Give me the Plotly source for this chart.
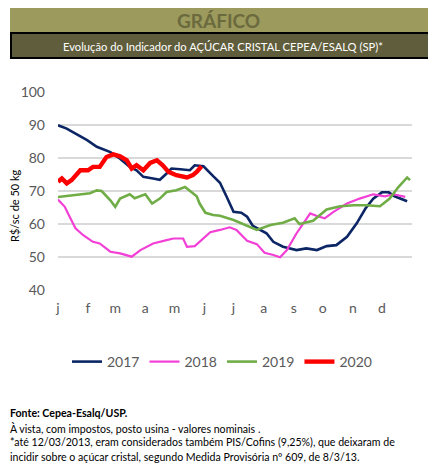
import plotly.graph_objects as go

# ---- data (day of year, R$/sc 50kg) ----
d2017 = [0, 9, 19, 30, 40, 54, 64, 74, 81, 88, 98, 105, 112, 117, 126, 136, 141, 150, 160, 167, 174, 181, 189, 195, 201, 215, 222, 232, 246, 256, 267, 277, 287, 298, 308, 317, 325, 334, 341, 347, 360]
v2017 = [89.9, 88.9, 87.2, 85.4, 83.4, 81.8, 79.8, 77.3, 76.3, 74.3, 73.8, 73.4, 75.3, 76.8, 76.6, 76.3, 77.8, 77.5, 74.5, 72.5, 68.2, 63.7, 63.4, 62.2, 59.4, 57.2, 54.6, 53.1, 52.1, 52.6, 52.1, 53.3, 53.6, 56.1, 60.2, 64.7, 67.7, 69.6, 69.6, 68.4, 66.9]

d2018 = [0, 7, 12, 18, 26, 36, 43, 54, 64, 76, 85, 98, 112, 119, 129, 133, 141, 150, 157, 167, 177, 184, 195, 205, 213, 222, 229, 236, 246, 253, 260, 267, 275, 284, 298, 311, 325, 337, 346, 358]
v2018 = [67.4, 65.2, 62.2, 58.7, 56.6, 54.6, 54.1, 51.6, 51.1, 50.1, 52.1, 54.1, 55.1, 55.6, 55.6, 53.1, 53.3, 55.5, 57.5, 58.2, 59.0, 58.2, 54.9, 53.9, 51.3, 50.6, 49.9, 52.1, 57.2, 60.2, 63.2, 62.4, 61.7, 63.7, 66.2, 67.7, 69.0, 68.4, 69.0, 68.2]

d2019 = [0, 16, 33, 40, 45, 54, 59, 64, 74, 79, 90, 97, 105, 112, 122, 131, 136, 143, 146, 152, 160, 167, 181, 191, 205, 219, 232, 244, 249, 263, 277, 291, 305, 318, 332, 342, 351, 360, 363]
v2019 = [68.2, 68.7, 69.3, 70.2, 70.0, 67.2, 65.2, 67.7, 69.0, 67.8, 69.0, 66.2, 67.7, 69.7, 70.2, 71.2, 70.0, 68.4, 66.2, 63.4, 62.7, 62.5, 61.2, 60.0, 58.2, 59.7, 60.4, 61.7, 60.0, 61.0, 64.4, 65.4, 65.7, 65.7, 65.4, 67.7, 71.2, 74.1, 73.3]

d2020 = [0, 4, 9, 14, 23, 31, 36, 43, 50, 57, 64, 71, 76, 81, 88, 95, 102, 108, 114, 122, 133, 139, 143, 148]
v2020 = [72.8, 73.8, 72.3, 73.3, 76.3, 76.3, 77.3, 77.3, 80.3, 81.1, 80.5, 79.3, 76.8, 77.8, 76.3, 78.5, 79.3, 77.8, 75.8, 74.8, 74.1, 74.8, 75.8, 77.5]

month_ticks = [0, 31, 59, 90, 120, 151, 181, 212, 243, 273, 304, 334]
month_labels = ["j", "f", "m", "a", "m", "j", "j", "a", "s", "o", "n", "d"]
y_ticks = [40, 50, 60, 70, 80, 90, 100]

series = [
    ("2017", d2017, v2017, "#0b2565", 2.6),
    ("2018", d2018, v2018, "#f23fd6", 2.2),
    ("2019", d2019, v2019, "#70ad47", 2.6),
    ("2020", d2020, v2020, "#ff0000", 4.4),
]

OFF = 8  # page body margin
W, H = 436, 472
# plot area in page pixels: x 58..412, y 92..290
L = 58 - OFF
R = W - (412 - OFF)
T = 92 - OFF
B = H - (290 - OFF)
PW, PH = W - L - R, H - T - B

def px(x):  # page px -> paper
    return (x - OFF - L) / PW

def py(y):
    return (H - B - (y - OFF)) / PH

fig = go.Figure()
for name, d, v, c, w in series:
    fig.add_trace(go.Scatter(x=d, y=v, mode="lines", name=name,
                             line=dict(color=c, width=w)))

FONT = "Lato"
fig.update_layout(
    width=W, height=H,
    margin=dict(l=L, r=R, t=T, b=B, autoexpand=False),
    paper_bgcolor="white", plot_bgcolor="white",
    font=dict(family=FONT, color="#595959"),
    showlegend=True,
    legend=dict(orientation="h", x=px(222), xanchor="center", y=py(362), yanchor="middle",
                font=dict(size=14, color="#595959"), itemwidth=30,
                bgcolor="rgba(0,0,0,0)", tracegroupgap=0),
    xaxis=dict(range=[0, 365], tickmode="array", tickvals=month_ticks, ticktext=month_labels,
               showgrid=False, zeroline=False, showline=False, ticks="", automargin=False,
               tickfont=dict(size=14, color="#595959"), ticklabelstandoff=8),
    yaxis=dict(range=[40, 100], tickmode="array", tickvals=y_ticks,
               showgrid=True, gridcolor="#d9d9d9", gridwidth=1.5, zeroline=False,
               showline=False, ticks="", tickfont=dict(size=14, color="#595959"),
               ticklabelstandoff=12, automargin=False),
)

shapes = [
    dict(type="rect", xref="paper", yref="paper", x0=px(10), x1=px(440), y0=py(33), y1=py(5),
         fillcolor="#9c9a5c", line=dict(width=0), layer="below"),
    dict(type="rect", xref="paper", yref="paper", x0=px(11), x1=px(441), y0=py(58), y1=py(33),
         fillcolor="#5f5d3b", line=dict(width=2, color="#000000"), layer="below"),
]
fig.update_layout(shapes=shapes)

ann = [
    dict(text="<b>GRÁFICO</b>", x=px(218), y=py(20), font=dict(size=19, color="#6b6a3e")),
    dict(text="Evolução do Indicador do AÇÚCAR CRISTAL CEPEA/ESALQ (SP)*", x=px(223), y=py(46),
         font=dict(size=11.2, color="#ffffff")),
    dict(text="R$/sc de 50 kg", x=px(14), y=py(206), textangle=-90,
         font=dict(size=11, color="#000000")),
]
footer = [
    ("<b>Fonte: Cepea-Esalq/USP.</b>", 413),
    ("À vista, com impostos, posto usina - valores nominais .", 428),
    ("*até 12/03/2013, eram considerados também PIS/Cofins (9,25%), que deixaram de", 442),
    ("incidir sobre o açúcar cristal, segundo Medida Provisória nº 609, de 8/3/13.", 457),
]
for t, y in footer:
    ann.append(dict(text=t, x=px(8), y=py(y), xanchor="left",
                    font=dict(size=10.6, color="#000000")))
for a in ann:
    a.update(xref="paper", yref="paper", showarrow=False, yanchor=a.get("yanchor", "middle"),
             xanchor=a.get("xanchor", "center"))
    a["font"]["family"] = FONT
fig.update_layout(annotations=ann)

fig.write_html("out.html")
